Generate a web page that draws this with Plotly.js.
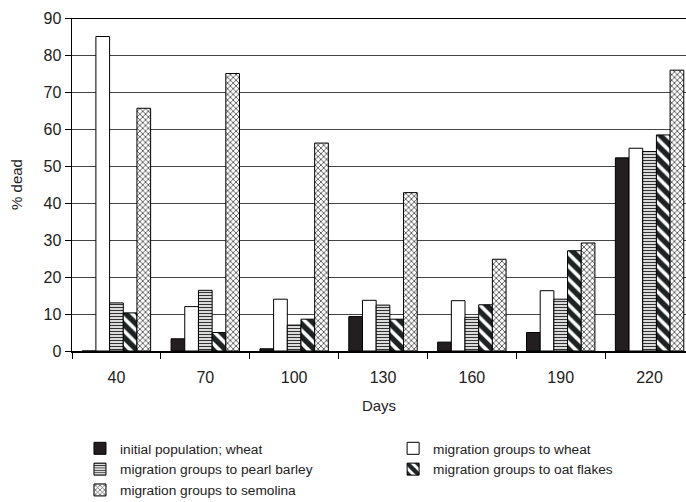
<!DOCTYPE html>
<html>
<head>
<meta charset="utf-8">
<script src="https://cdn.plot.ly/plotly-3.0.1.min.js"></script>
<style>html,body{margin:0;padding:0;background:#fff;}#chart{width:686px;height:502px;}</style>
</head>
<body>
<div id="chart"></div>
<script>
const days = ["40", "70", "100", "130", "160", "190", "220"];
const initialWheat = [0, 3.3, 0.6, 9.3, 2.4, 5.0, 52.2];
const migWheat = [85, 12.0, 14.0, 13.7, 13.6, 16.3, 54.8];
const migPearlBarley = [13.0, 16.4, 7.0, 12.4, 9.1, 14.0, 53.9];
const migOatFlakes = [10.3, 5.0, 8.6, 8.6, 12.5, 27.1, 58.4];
const migSemolina = [65.6, 75.0, 56.2, 42.8, 24.8, 29.2, 75.9];
const yTicks = [0, 10, 20, 30, 40, 50, 60, 70, 80, 90];

const line = {color: "#000", width: 1};
const traces = [
  {name: "initial population; wheat", y: initialWheat, legend: "legend",
   marker: {color: "#231f20", line: line}},
  {name: "migration groups to wheat", y: migWheat, legend: "legend2",
   marker: {color: "#ffffff", line: line}},
  {name: "migration groups to pearl barley", y: migPearlBarley, legend: "legend",
   marker: {color: "#ffffff", line: line,
     pattern: {shape: "-", fgcolor: "#333", bgcolor: "#fff", size: 3, solidity: 0.45}}},
  {name: "migration groups to oat flakes", y: migOatFlakes, legend: "legend2",
   marker: {color: "#ffffff", line: line,
     pattern: {shape: "\\", fgcolor: "#1e2222", bgcolor: "#fff", size: 9, solidity: 0.6}}},
  {name: "migration groups to semolina", y: migSemolina, legend: "legend",
   marker: {color: "#ffffff", line: line,
     pattern: {shape: "x", fgcolor: "#555", bgcolor: "#fff", size: 4, solidity: 0.4}}}
].map(t => Object.assign({type: "bar", x: days, hoverinfo: "y"}, t));

const fam = "Liberation Sans, Arial, sans-serif";
const tickFont = {family: fam, size: 16, color: "#222"};
const titleFont = {family: fam, size: 15, color: "#222"};
const legFont = {family: fam, size: 13.7, color: "#222"};

const legBase = {
  orientation: "v",
  yanchor: "top", y: -0.246,
  xanchor: "left",
  itemwidth: 30,
  tracegroupgap: 0,
  font: legFont,
  bgcolor: "rgba(0,0,0,0)",
  borderwidth: 0
};

const layout = {
  width: 686, height: 502,
  margin: {l: 72, r: 0, t: 18, b: 151, autoexpand: false},
  paper_bgcolor: "#fff", plot_bgcolor: "#fff",
  font: tickFont,
  barmode: "group",
  bargap: 0.23,
  bargroupgap: 0,
  showlegend: true,
  xaxis: {
    type: "category",
    range: [-0.5, 6.41],
    showline: true, linecolor: "#000", linewidth: 1.5,
    ticks: "outside", tickson: "boundaries", ticklen: 6, tickcolor: "#000",
    ticklabelstandoff: 11,
    showgrid: false,
    tickfont: tickFont,
    automargin: false,
    title: {text: "Days", font: titleFont, standoff: 16}
  },
  yaxis: {
    range: [0, 90],
    tickvals: yTicks,
    showline: true, linecolor: "#000", linewidth: 1.5,
    ticks: "outside", ticklen: 6, tickcolor: "#000",
    showgrid: true, gridcolor: "#444", gridwidth: 1,
    zeroline: false,
    tickfont: tickFont,
    automargin: false,
    title: {text: "% dead", font: titleFont, standoff: 17}
  },
  shapes: [
    {type: "line", xref: "paper", yref: "y", x0: 0, x1: 1, y0: 90, y1: 90,
     line: {color: "#000", width: 2}}
  ],
  legend: Object.assign({}, legBase, {x: 0.013}),
  legend2: Object.assign({}, legBase, {x: 0.523})
};

Plotly.newPlot("chart", traces, layout, {displayModeBar: false, staticPlot: true});
</script>
</body>
</html>
